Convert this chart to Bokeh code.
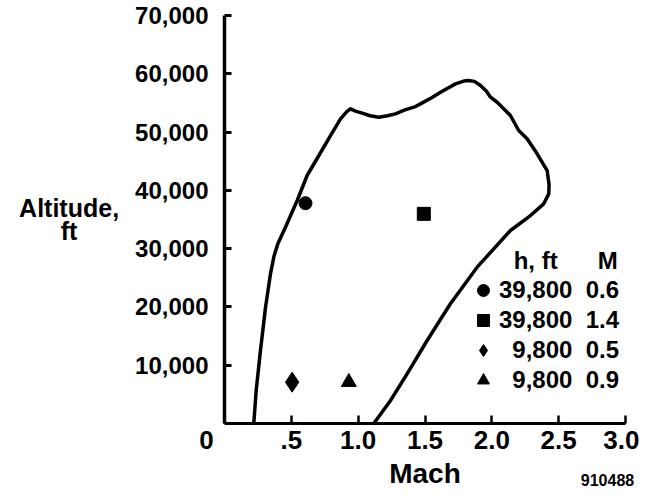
from bokeh.plotting import figure
from bokeh.models import Range1d, FixedTicker, Legend, LegendItem, ColumnDataSource, Label
from bokeh.embed import file_html
from bokeh.resources import INLINE

# Flight envelope boundary (Mach, altitude ft)
env_mach = [0.219, 0.237, 0.269, 0.307, 0.344, 0.370, 0.400, 0.430, 0.456, 0.544,
            0.618, 0.706, 0.793, 0.868, 0.915, 0.942, 0.980, 1.030, 1.090, 1.154,
            1.220, 1.279, 1.350, 1.429, 1.466, 1.550, 1.616, 1.728, 1.790, 1.827,
            1.870, 1.915, 1.960, 1.990, 2.040, 2.139, 2.201, 2.264, 2.339, 2.414,
            2.428, 2.426, 2.388, 2.289, 2.139, 1.890, 1.690, 1.516, 1.366, 1.242, 1.117]
env_alt = [0, 5660, 12520, 19950, 25680, 28700, 30900, 32400, 33680, 38260,
           42550, 45980, 49410, 52270, 53500, 53990, 53600, 53240, 52800, 52550,
           52800, 53130, 53800, 54380, 54840, 55900, 56840, 58270, 58750, 58840,
           58700, 57990, 57000, 55980, 55120, 52840, 50270, 48840, 46270, 43400,
           41000, 39400, 37690, 35680, 33110, 26820, 20540, 14240, 8530, 3950, 0]

# Test points
pt_mach = [0.606, 1.491, 0.506, 0.930]
pt_alt = [37800, 35970, 7090, 7100]
pt_marker = ["circle", "square", "diamond", "triangle"]
pt_size = [13, 13, 20, 15]
leg_h = ["39,800", "39,800", "9,800", "9,800"]
leg_m = ["0.6", "1.4", "0.5", "0.9"]

x_ticks = [0, 0.5, 1.0, 1.5, 2.0, 2.5, 3.0]
x_tick_labels = ["0\u2007\u2007 ", ".5", "1.0", "1.5", "2.0", "2.5", "3.0"]
y_ticks = [10000, 20000, 30000, 40000, 50000, 60000, 70000]
y_tick_labels = ["10,000", "20,000", "30,000", "40,000", "50,000", "60,000", "70,000"]

FONT = "Liberation Sans"

p = figure(frame_width=401, frame_height=408,
           min_border_left=224, min_border_right=14, min_border_top=15, min_border_bottom=60,
           x_range=Range1d(0, 3), y_range=Range1d(0, 70000),
           output_backend="svg", toolbar_location=None)
p.xgrid.visible = False
p.ygrid.visible = False
p.outline_line_color = None
p.background_fill_color = "white"
p.border_fill_color = "white"

xa = p.xaxis[0]
xa.ticker = FixedTicker(ticks=x_ticks)
xa.major_label_overrides = dict(zip(x_ticks, x_tick_labels))
xa.minor_tick_line_color = None
xa.major_tick_in = 8
xa.major_tick_out = 0
xa.major_tick_line_width = 2.5
xa.axis_line_width = 3
xa.major_label_standoff = 1
xa.major_label_text_font = FONT
xa.major_label_text_font_style = "bold"
xa.major_label_text_font_size = "26px"
xa.major_label_text_color = "black"
xa.axis_line_color = "black"
xa.major_tick_line_color = "black"
xa.axis_label = "Mach"
xa.axis_label_text_font = FONT
xa.axis_label_text_font_style = "bold"
xa.axis_label_text_font_size = "28px"
xa.axis_label_text_color = "black"
xa.axis_label_standoff = 0

ya = p.yaxis[0]
ya.ticker = FixedTicker(ticks=y_ticks)
ya.major_label_overrides = dict(zip(y_ticks, y_tick_labels))
ya.minor_tick_line_color = None
ya.major_tick_in = 7
ya.major_tick_out = 0
ya.major_tick_line_width = 3
ya.axis_line_width = 3.5
ya.major_label_standoff = 16
ya.major_label_text_font = FONT
ya.major_label_text_font_style = "bold"
ya.major_label_text_font_size = "24px"
ya.major_label_text_color = "black"
ya.axis_line_color = "black"
ya.major_tick_line_color = "black"
ya.axis_label = "Altitude,\nft\u2007\u2007\u2007"
ya.axis_label_orientation = "horizontal"
ya.axis_label_text_font = FONT
ya.axis_label_text_font_style = "bold"
ya.axis_label_text_font_size = "25px"
ya.axis_label_text_color = "black"
ya.axis_label_text_line_height = 0.85
ya.axis_label_standoff = 13

p.line(env_mach, env_alt, line_color="black", line_width=3.5, line_join="round", line_cap="round")

src = ColumnDataSource(dict(mach=pt_mach, alt=pt_alt, marker=pt_marker, size=pt_size))
r = p.scatter("mach", "alt", marker="marker", size="size", source=src,
              fill_color="black", line_color="black")

items = []
for i in range(len(leg_h)):
    lbl = leg_h[i].rjust(6, "\u2007") + "\u2007" + leg_m[i]
    items.append(LegendItem(label=lbl, renderers=[r], index=i))
legend = Legend(items=items, location=(243, 28), glyph_width=32, glyph_height=30,
                label_height=30, label_standoff=0, spacing=0, padding=0, margin=0,
                border_line_color=None, background_fill_alpha=0,
                label_text_font=FONT, label_text_font_style="bold",
                label_text_font_size="24px", label_text_color="black",
                title="\u2007\u2007\u2007 h, ft\u2007\u2007\u2007M",
                title_text_font=FONT, title_text_font_style="bold",
                title_text_font_size="24px", title_text_color="black",
                title_standoff=0)
p.add_layout(legend)

# figure number, kept in the side panel so it is not clipped to the frame
p.add_layout(Label(x=3.0, y=0, x_offset=-18, y_offset=-56, text="910488",
                   text_font=FONT, text_font_style="bold", text_font_size="16px",
                   text_align="center", text_baseline="middle", text_color="black"), "below")

open("out.html", "w").write(file_html(p, INLINE))
